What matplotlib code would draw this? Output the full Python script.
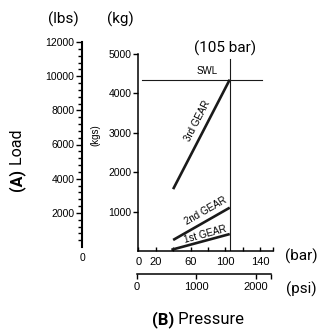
import numpy as np
import matplotlib.pyplot as plt

# pressure (bar) vs load (kg) for each gear
gear_names = ["1st GEAR", "2nd GEAR", "3rd GEAR"]
gear_bar = [[38, 105], [40, 105], [40, 105]]
gear_kg = [[30, 430], [280, 1100], [1570, 4350]]
gear_label_pos = [(76.5, 430), (77.5, 1015), (68.5, 3290)]

swl_kg = 4350
swl_bar_range = [4, 142]
max_bar = 105
max_bar_top_kg = 4870

kg_ticks = [1000, 2000, 3000, 4000, 5000]
lbs_ticks = [2000, 4000, 6000, 8000, 10000, 12000]
bar_ticks = [0, 20, 40, 60, 80, 100, 120, 140, 155]
bar_labels = ["0", "20", "", "60", "", "100", "", "140", ""]
psi_ticks = [0, 1000, 2000, 2250]
psi_labels = ["0", "1000", "2000", ""]

W, H = 320, 331
BIG = "Roboto"
TICKF = "Liberation Sans"

fig = plt.figure(figsize=(3.2, 3.31), dpi=100)

def px(x, y):
    return x / W, 1 - y / H

# main axes: bar vs kg
ax = fig.add_axes([138.3 / W, 80 / H, 135 / W, 197 / H])
ax.set_xlim(0, 155)
ax.set_ylim(0, 5000)
for s in ["top", "right"]:
    ax.spines[s].set_visible(False)
for s in ["left", "bottom"]:
    ax.spines[s].set_linewidth(1.1)
ax.set_yticks(kg_ticks)
ax.set_yticklabels([str(t) for t in kg_ticks], fontsize=7.5, family=TICKF)
ax.tick_params(axis="y", direction="out", length=3.5, width=1, pad=1.5)
ax.set_xticks(bar_ticks)
ax.set_xticklabels(bar_labels, fontsize=8, family=TICKF)
ax.tick_params(axis="x", direction="in", length=3, width=1, pad=4)
ax.patch.set_alpha(0)

for xs, ys in zip(gear_bar, gear_kg):
    ax.plot(xs, ys, color="#1a1a1a", lw=1.9, solid_capstyle="butt")
ax.plot(swl_bar_range, [swl_kg, swl_kg], color="#1a1a1a", lw=0.8)
ax.plot([max_bar, max_bar], [0, max_bar_top_kg], color="#1a1a1a", lw=0.8)

fig.canvas.draw()
for name, xs, ys, pos in zip(gear_names, gear_bar, gear_kg, gear_label_pos):
    p = ax.transData.transform(np.column_stack([xs, ys]))
    ang = np.degrees(np.arctan2(p[1, 1] - p[0, 1], p[1, 0] - p[0, 0]))
    ax.text(pos[0], pos[1], name, rotation=ang, rotation_mode="anchor",
            ha="center", va="center", fontsize=7, family=TICKF)
ax.text(79.5, 4580, "SWL", ha="center", va="center", fontsize=7, family=TICKF)

# lbs axis
axl = fig.add_axes([82 / W, 84 / H, 0.01, 205 / H])
axl.set_ylim(0, 12000)
axl.patch.set_alpha(0)
for s in ["top", "right", "bottom"]:
    axl.spines[s].set_visible(False)
axl.spines["left"].set_linewidth(1.5)
axl.set_xticks([])
axl.set_yticks(lbs_ticks)
axl.set_yticklabels([str(t) for t in lbs_ticks], fontsize=7.5, family=TICKF)
axl.set_yticks(np.arange(400, 12000, 400), minor=True)
axl.tick_params(axis="y", which="major", direction="out", length=4.5, width=1, pad=1)
axl.tick_params(axis="y", which="minor", direction="out", length=3, width=1)
axl.text(0, -350, "0", ha="center", va="top", fontsize=7.5, family=TICKF,
         transform=axl.get_yaxis_transform())

# psi axis
axp = fig.add_axes([137 / W, 57 / H, 133.7 / W, 0.01])
axp.set_xlim(0, 2250)
axp.patch.set_alpha(0)
for s in ["top", "right", "left"]:
    axp.spines[s].set_visible(False)
axp.spines["bottom"].set_linewidth(1.1)
axp.set_yticks([])
axp.set_xticks(psi_ticks)
axp.set_xticklabels(psi_labels, fontsize=8, family=TICKF)
axp.tick_params(axis="x", direction="out", length=3.5, width=1, pad=2.5)

# labels
fig.text(*px(63, 19), "(lbs)", ha="center", va="center", fontsize=11, family=BIG)
fig.text(*px(120, 19), "(kg)", ha="center", va="center", fontsize=11, family=BIG)
fig.text(*px(225, 48), "(105 bar)", ha="center", va="center", fontsize=11, family=BIG)
fig.text(*px(301, 256), "(bar)", ha="center", va="center", fontsize=11, family=BIG)
fig.text(*px(301, 289), "(psi)", ha="center", va="center", fontsize=11, family=BIG)
fig.text(*px(95, 135), "(kgs)", ha="center", va="center", rotation=90,
         fontsize=7, family=TICKF)

tb = fig.text(*px(152, 320), "(B)", ha="left", va="center", fontsize=12,
              family=BIG, weight="bold")
ax.annotate(" Pressure", xy=(1, 0.5), xycoords=tb, ha="left", va="center",
            fontsize=12, family=BIG, annotation_clip=False)

ta = fig.text(*px(17, 191), "(A)", ha="center", va="bottom", rotation=90,
              fontsize=11.5, family=BIG, weight="bold")
ax.annotate(" Load", xy=(0.5, 1), xycoords=ta, ha="center", va="bottom",
            rotation=90, fontsize=11.5, family=BIG, annotation_clip=False)

fig.savefig("out.png", dpi=100)
